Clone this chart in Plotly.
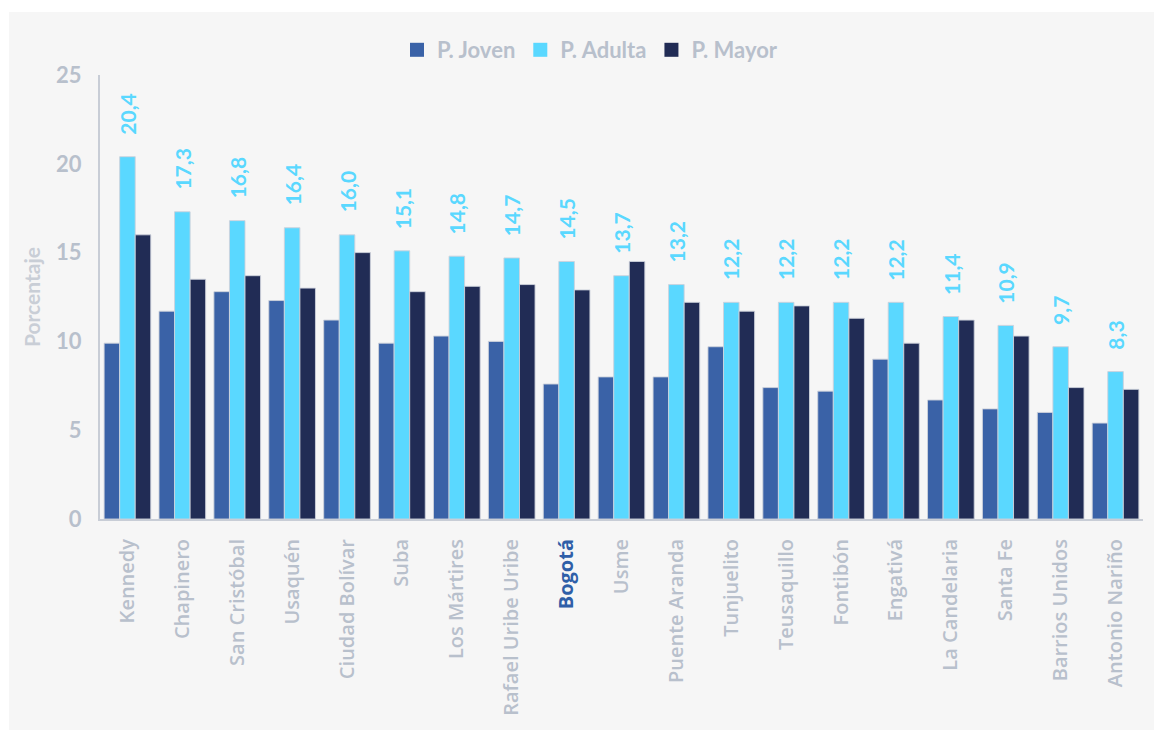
import plotly.graph_objects as go

# ── Data ──────────────────────────────────────────────────────────────────────
localidades = [
    "Kennedy", "Chapinero", "San Cristóbal", "Usaquén", "Ciudad Bolívar",
    "Suba", "Los Mártires", "Rafael Uribe Uribe", "Bogotá", "Usme",
    "Puente Aranda", "Tunjuelito", "Teusaquillo", "Fontibón", "Engativá",
    "La Candelaria", "Santa Fe", "Barrios Unidos", "Antonio Nariño",
]
joven = [9.9, 11.7, 12.8, 12.3, 11.2, 9.9, 10.3, 10.0, 7.6, 8.0,
         8.0, 9.7, 7.4, 7.2, 9.0, 6.7, 6.2, 6.0, 5.4]
adulta = [20.4, 17.3, 16.8, 16.4, 16.0, 15.1, 14.8, 14.7, 14.5, 13.7,
          13.2, 12.2, 12.2, 12.2, 12.2, 11.4, 10.9, 9.7, 8.3]
mayor = [16.0, 13.5, 13.7, 13.0, 15.0, 12.8, 13.1, 13.2, 12.9, 14.5,
         12.2, 11.7, 12.0, 11.3, 9.9, 11.2, 10.3, 7.4, 7.3]
y_ticks = [0, 5, 10, 15, 20, 25]

# ── Styling ───────────────────────────────────────────────────────────────────
FONT = "Lato"
CAT_FONT = "Open Sans"
GREY = "#b8c0cc"
COL_JOVEN = "#3a62a7"
COL_ADULTA = "#5ad8ff"
COL_MAYOR = "#212c55"
OUTLINE = "rgba(205,210,220,0.9)"

# page is offset by the 8px body margin; geometry below is in figure pixels
W, H = 1162, 730
L, R, T, B = 92, 27, 67, 219
PW, PH = W - L - R, H - T - B
OFF = 8


def px_x(p):
    # page pixel -> paper x
    return (p - OFF - L) / PW


def px_y(p):
    # page pixel -> paper y
    return (H - B - (p - OFF)) / PH


tick_text = [
    f"<span style='color:#2f5fa8'><b>{c}</b></span>" if c == "Bogotá" else c
    for c in localidades
]

series = [
    ("P. Joven", joven, COL_JOVEN),
    ("P. Adulta", adulta, COL_ADULTA),
    ("P. Mayor", mayor, COL_MAYOR),
]

fig = go.Figure()
for name, vals, col in series:
    fig.add_trace(go.Bar(
        x=localidades, y=vals, name=name, showlegend=False,
        marker=dict(color=col, line=dict(color=OUTLINE, width=1)),
    ))

# legend entries: bigger square swatches than the default bar icon
for name, _, col in series:
    fig.add_trace(go.Scatter(
        x=[None], y=[None], mode="markers", name=name,
        marker=dict(symbol="square", size=14, color=col),
    ))

# value labels over the "Adulta" bars
for c, v in zip(localidades, adulta):
    fig.add_annotation(
        x=c, y=v, text=f"<b>{v:.1f}</b>".replace(".", ","),
        textangle=-90, showarrow=False, yanchor="bottom", yshift=20,
        font=dict(family=FONT, size=21, color=COL_ADULTA),
    )

# light grey panel behind everything
fig.add_shape(
    type="rect", xref="paper", yref="paper", layer="below",
    x0=px_x(9), x1=px_x(W + 20), y0=px_y(12), y1=px_y(H + 20),
    fillcolor="#f6f6f6", line_width=0,
)

fig.update_layout(
    width=W, height=H,
    margin=dict(l=L, r=R, t=T, b=B),
    paper_bgcolor="white",
    plot_bgcolor="rgba(0,0,0,0)",
    barmode="group",
    bargap=0.15,
    bargroupgap=0,
    font=dict(family=FONT, color=GREY),
    showlegend=True,
    legend=dict(
        orientation="h", x=px_x(590), xanchor="center",
        y=px_y(50), yanchor="middle",
        font=dict(family=FONT, size=22, color=GREY, weight="bold"),
        itemwidth=30, tracegroupgap=0,
        bgcolor="rgba(0,0,0,0)",
    ),
)

fig.update_yaxes(
    range=[0, 25], tickvals=y_ticks, showgrid=False, zeroline=False,
    showline=True, linecolor="#c8cdd6", linewidth=2,
    ticks="", ticklabelstandoff=12,
    tickfont=dict(family=FONT, size=22, color=GREY, weight="bold"),
    title=dict(text="<b>Porcentaje</b>", standoff=10,
               font=dict(family=FONT, size=21, color="#c9ced6")),
)
fig.update_xaxes(
    tickvals=localidades, ticktext=tick_text, tickangle=-90,
    showgrid=False, showline=True, linecolor="#c8cdd6", linewidth=2,
    ticks="", ticklabelstandoff=10,
    tickfont=dict(family=CAT_FONT, size=20, color=GREY, weight=600),
)

fig.write_html("out.html")
